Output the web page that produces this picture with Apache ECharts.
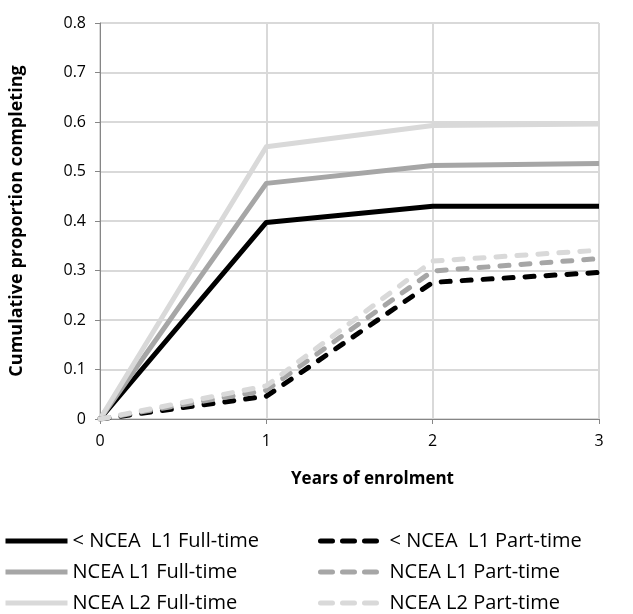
<!DOCTYPE html>
<html>
<head>
<meta charset="utf-8">
<script src="https://cdn.jsdelivr.net/npm/echarts@6/dist/echarts.min.js"></script>
<style>
  html, body { margin: 0; padding: 0; background: #fff; }
  #main { width: 633px; height: 614px; }
</style>
</head>
<body>
<div id="main"></div>
<script>
// data
var years = [0, 1, 2, 3];
var belowL1Full = [0, 0.397, 0.43, 0.43];
var l1Full = [0, 0.476, 0.512, 0.516];
var l2Full = [0, 0.55, 0.593, 0.596];
var belowL1Part = [0, 0.046, 0.276, 0.296];
var l1Part = [0, 0.058, 0.299, 0.324];
var l2Part = [0, 0.067, 0.319, 0.341];

var names = ['< NCEA  L1 Full-time', 'NCEA L1 Full-time', 'NCEA L2 Full-time',
             '< NCEA  L1 Part-time', 'NCEA L1 Part-time', 'NCEA L2 Part-time'];

var font = '"Open Sans", Lato, sans-serif';

function pairs(vals) {
    return years.map(function(y, i) { return [y, vals[i]]; });
}

function mkSeries(name, vals, color, dashed) {
    return {
        name: name,
        type: 'line',
        data: pairs(vals),
        symbol: 'none',
        lineStyle: {
            color: color,
            width: 5,
            type: dashed ? [9, 12] : 'solid',
            cap: dashed ? 'round' : 'butt',
            join: 'round'
        },
        itemStyle: { color: color },
        animation: false
    };
}

var myChart = echarts.init(document.getElementById('main'));

var legendText = { fontFamily: font, fontSize: 20, color: '#000' };

var option = {
    backgroundColor: '#fff',
    grid: { left: 100, right: 34, top: 23, bottom: 195 },
    legend: [{
        data: names.slice(0, 3),
        orient: 'vertical',
        left: 3,
        top: 531,
        padding: 0,
        itemWidth: 62,
        itemHeight: 14,
        itemGap: 11,
        itemStyle: { opacity: 0 },
        lineStyle: { width: 5 },
        textStyle: legendText
    }, {
        data: names.slice(3),
        orient: 'vertical',
        left: 318,
        top: 531,
        padding: 0,
        itemWidth: 64,
        itemHeight: 14,
        itemGap: 11,
        itemStyle: { opacity: 0 },
        lineStyle: { width: 5, type: [12, 10] },
        textStyle: legendText
    }],
    xAxis: {
        type: 'value',
        min: 0,
        max: 3,
        interval: 1,
        name: 'Years of enrolment',
        nameLocation: 'middle',
        nameGap: 52,
        nameTextStyle: {
            fontFamily: font, fontSize: 17, fontWeight: 'bold', color: '#000',
            padding: [0, 0, 0, 46]
        },
        axisLine: { lineStyle: { color: '#868686', width: 1 } },
        axisTick: { show: true, length: 5, lineStyle: { color: '#868686' } },
        axisLabel: { fontFamily: font, fontSize: 16, color: '#000', margin: 14 },
        splitLine: { show: true, lineStyle: { color: '#d9d9d9', width: 2 } }
    },
    yAxis: {
        type: 'value',
        min: 0,
        max: 0.8,
        interval: 0.1,
        name: 'Cumulative proportion completing',
        nameLocation: 'middle',
        nameGap: 74,
        nameTextStyle: { fontFamily: font, fontSize: 18, fontWeight: 'bold', color: '#000' },
        axisLine: { show: true, lineStyle: { color: '#868686', width: 1 } },
        axisTick: { show: true, length: 5, lineStyle: { color: '#868686' } },
        axisLabel: {
            fontFamily: font, fontSize: 16, color: '#000', margin: 14,
            formatter: function(v) { return v === 0 ? '0' : v.toFixed(1); }
        },
        splitLine: { show: true, lineStyle: { color: '#d9d9d9', width: 2 } }
    },
    series: [
        mkSeries(names[0], belowL1Full, '#000000', false),
        mkSeries(names[1], l1Full, '#a6a6a6', false),
        mkSeries(names[2], l2Full, '#d9d9d9', false),
        mkSeries(names[3], belowL1Part, '#000000', true),
        mkSeries(names[4], l1Part, '#a6a6a6', true),
        mkSeries(names[5], l2Part, '#d9d9d9', true)
    ]
};

myChart.setOption(option);
</script>
</body>
</html>
